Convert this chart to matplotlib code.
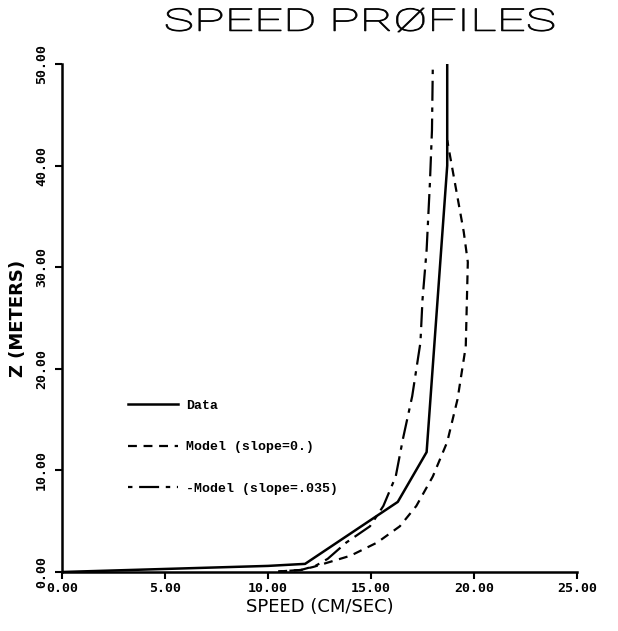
import matplotlib
matplotlib.use("Agg")
import matplotlib.pyplot as plt
from matplotlib.textpath import TextPath
from matplotlib.patches import PathPatch
from matplotlib.transforms import Affine2D
from matplotlib.font_manager import FontProperties

# speed (cm/s) vs height z (m)
data_speed = [0.0, 10.0, 11.8, 16.3, 17.7, 18.7, 18.7]
data_z = [0.0, 0.6, 0.8, 6.9, 11.8, 40.0, 50.0]

model0_speed = [10.5, 11.6, 12.2, 14.0, 15.3, 16.4, 17.2, 18.0, 18.7, 19.2, 19.6, 19.7, 19.5, 18.7]
model0_z = [0.05, 0.2, 0.5, 1.6, 2.9, 4.5, 6.5, 9.4, 12.8, 17.0, 22.2, 30.5, 33.5, 42.5]

model035_speed = [10.5, 11.6, 12.3, 12.9, 13.8, 14.95, 15.6, 16.2, 16.55, 17.0, 17.4, 17.5, 17.7, 17.86, 17.96, 18.0]
model035_z = [0.05, 0.2, 0.6, 1.3, 2.9, 4.5, 6.5, 9.4, 13.1, 17.3, 22.6, 26.8, 31.7, 38.3, 43.5, 49.7]

xticks = [0, 5, 10, 15, 20, 25]
yticks = [0, 10, 20, 30, 40, 50]

W, H = 618, 631
fig = plt.figure(figsize=(W / 100, H / 100), dpi=100)
ax = fig.add_axes([62 / W, 1 - 572 / H, (577 - 62) / W, (572 - 64) / H])

ax.plot(data_speed, data_z, color="black", lw=1.8, label="Data")
ax.plot(model0_speed, model0_z, color="black", lw=1.6,
        linestyle=(0, (4, 3)), label="Model (slope=0.)")
ax.plot(model035_speed, model035_z, color="black", lw=1.6,
        linestyle=(0, (2, 3, 9, 3)), label="-Model (slope=.035)")

ax.set_xlim(0, 25)
ax.set_ylim(0, 50)
ax.set_xticks(xticks)
ax.set_yticks(yticks)
ax.set_xticklabels(["%.2f" % v for v in xticks],
                   fontfamily="DejaVu Sans Mono", fontweight="bold", fontsize=9.5)
ax.set_yticklabels(["%.2f" % v for v in yticks],
                   fontfamily="DejaVu Sans Mono", fontweight="bold", fontsize=9.5,
                   rotation=90, va="center")
ax.tick_params(direction="out", length=5, width=1.5)
ax.tick_params(axis="x", pad=2)
ax.tick_params(axis="y", pad=5)
for s in ["top", "right"]:
    ax.spines[s].set_visible(False)
for s in ["left", "bottom"]:
    ax.spines[s].set_linewidth(1.8)

ax.set_xlabel("SPEED (CM/SEC)", fontsize=13, labelpad=2)
ax.set_ylabel("Z (METERS)", fontsize=13, fontweight="bold", labelpad=6)

# title: stretched wide, thin strokes like a pen-plotter font
tp = TextPath((0, 0), "SPEED PRØFILES", size=1,
              prop=FontProperties(family="Roboto", weight="light"))
bb = tp.get_extents()
tr = (Affine2D().translate(-bb.x0, -bb.y0)
      .scale(388 / bb.width, 24 / bb.height)
      .translate(166, H - 32).scale(1 / 100) + fig.dpi_scale_trans)
fig.patches.append(PathPatch(tp, transform=tr, facecolor="black",
                             edgecolor="black", lw=0.6, figure=fig))

leg = ax.legend(loc="upper left", bbox_to_anchor=(116 / W, 1 - 388 / H),
                bbox_transform=fig.transFigure, frameon=False,
                prop={"family": "Liberation Mono", "weight": "bold", "size": 9.5},
                handlelength=3.8, handletextpad=0.6, labelspacing=2.2)

fig.savefig("out.png", dpi=100)
